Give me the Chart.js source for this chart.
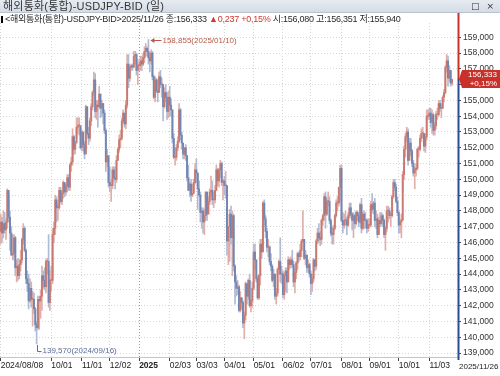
<!DOCTYPE html>
<html>
<head>
<meta charset="utf-8">
<script src="https://cdn.jsdelivr.net/npm/chart.js@4.4.1/dist/chart.umd.min.js"></script>
<style>
    html, body { margin: 0; padding: 0; background: #fff; }
    #wrap { position: relative; width: 500px; height: 376px; overflow: hidden; font-family: "Liberation Sans", "Noto Sans CJK KR", sans-serif; }
    #chart { position: absolute; left: 0; top: 0; }
    #titlebar { position: absolute; left: 0; top: 0; width: 500px; height: 12px; background: linear-gradient(#e6ebf1, #d5dce5); border-bottom: 1px solid #b9c3cf; color: #333; font-size: 11px; line-height: 12px; letter-spacing: 0.2px; z-index: 2; }
    #titlebar .t { position: absolute; left: 3px; top: 0; }
    #titlebar .b { position: absolute; right: 4px; top: 0; font-family: "DejaVu Sans"; font-size: 9px; letter-spacing: 2px; }
    #legend { position: absolute; left: 1px; top: 14px; font-size: 9px; letter-spacing: -0.25px; line-height: 10px; color: #2a2a2a; white-space: nowrap; z-index: 2; }
    #legend .mk { display: inline-block; width: 2px; height: 7px; background: #000; margin-right: 2px; vertical-align: -1px; }
    #legend .up { color: #d0392e; }
</style>
</head>
<body>
<div id="wrap">
    <canvas id="chart" width="500" height="376"></canvas>
    <div id="titlebar"><span class="t">해외통화(통합)-USDJPY-BID (일)</span><span class="b">□ ×</span></div>
    <div id="legend"><span class="mk"></span>&lt;해외통화(통합)-USDJPY-BID&gt;2025/11/26 종:156,333 <span class="up">▲0,237 +0,15%</span> 시:156,080 고:156,351 저:155,940</div>
</div>
<script>
// daily bars, 2024/08/08 .. 2025/11/26 (340 trading days)
const closes = [
    147.3,146.6,147.2,146.8,147.3,149.3,147.6,146.6,145.2,145.3,146.3,144.4,144.5,143.9,144.6,144.9,146.2,
    146.9,145.5,143.7,143.4,142.3,143.1,142.4,142.4,141.8,140.8,140.6,142.4,142.3,142.6,143.9,143.6,143.2,144.8,144.8,142.2,143.6,
    143.6,146.5,146.9,148.7,148.2,148.2,149.3,148.6,149.1,149.8,149.2,149.6,150.1,149.5,150.9,151.1,152.7,151.9,152.3,153.3,153.4,153.4,152.0,
    153.0,152.2,151.6,154.6,152.9,152.6,153.7,154.6,155.5,156.3,154.3,154.7,154.6,155.4,154.5,154.8,154.2,153.1,151.1,151.5,149.8,
    149.6,149.6,150.6,150.1,150.0,151.2,151.9,152.5,152.6,153.7,154.2,153.5,154.7,157.3,156.4,157.1,157.2,157.1,157.8,157.9,156.9,157.2,
    157.2,157.5,157.3,157.7,158.1,158.3,158.1,157.7,157.5,158.0,156.5,155.2,156.3,155.6,155.5,156.5,156.0,156.0,154.6,155.5,155.2,154.3,155.2,
    154.7,154.4,152.6,151.4,151.4,152.0,152.4,154.4,152.8,152.3,151.6,152.0,151.5,150.1,149.3,149.7,149.0,149.1,149.8,150.6,
    150.4,149.4,149.0,147.9,148.0,147.3,147.7,149.2,147.8,148.6,149.2,149.3,148.7,148.7,149.3,150.6,149.9,150.6,151.0,149.8,149.9,
    149.6,149.6,146.1,147.0,147.8,146.3,147.7,144.5,143.5,143.1,143.2,141.7,142.5,142.2,140.9,141.4,143.4,142.6,143.6,142.0,142.3,143.1,
    145.4,144.9,143.7,142.5,143.9,145.9,145.4,148.5,147.5,146.7,145.7,145.7,144.8,144.5,143.6,144.0,142.6,142.8,144.3,144.8,144.0,144.0,
    142.7,143.9,144.2,143.5,144.9,144.6,144.9,144.6,143.5,144.1,144.7,145.3,145.1,145.5,146.1,146.2,145.0,145.2,144.4,144.6,144.0,
    143.4,143.7,144.9,144.5,146.1,146.6,146.3,146.2,147.4,147.7,148.9,147.8,148.6,148.6,147.4,146.6,146.5,146.9,147.7,148.5,148.5,149.5,150.7,
    147.4,147.1,147.4,147.4,147.1,147.7,148.2,147.8,147.4,147.7,147.2,147.9,147.7,147.3,148.4,146.9,147.8,147.4,147.4,146.9,147.1,
    147.1,148.4,148.1,148.5,147.4,147.5,146.5,147.4,147.2,147.7,147.4,146.5,146.9,148.0,148.0,147.7,147.7,148.9,149.8,149.5,148.6,147.9,
    147.1,147.3,147.4,150.3,151.9,152.7,153.0,151.2,152.3,151.8,151.0,150.4,150.6,150.7,151.9,151.9,152.6,152.9,152.9,152.1,152.7,154.0,154.0,
    154.2,153.6,154.1,153.1,153.4,154.1,154.1,154.8,154.5,154.5,155.2,155.5,157.1,157.5,156.4,156.9,156.096,156.333,
];
const highs = [
    147.8,147.6,148.0,147.9,147.5,149.4,149.0,148.0,147.0,146.5,146.5,146.4,144.9,145.0,144.9,145.5,146.3,
    147.2,147.0,145.6,144.2,144.0,143.7,143.5,142.9,142.8,141.9,141.0,142.6,142.6,143.0,144.5,144.2,144.4,144.9,145.0,146.5,144.2,
    144.5,146.9,147.3,149.0,148.9,148.4,149.5,149.5,149.3,149.9,149.8,149.7,150.3,150.3,151.0,151.4,153.2,152.8,152.4,153.9,153.9,153.9,153.2,
    153.1,152.7,152.4,154.7,154.6,153.3,153.9,154.8,155.6,156.8,156.7,155.0,155.0,155.9,155.0,155.0,154.8,154.4,153.2,151.9,151.3,
    150.8,150.0,150.8,150.8,150.8,151.5,152.0,152.8,153.1,153.9,154.4,154.1,155.0,157.9,157.9,157.2,157.3,157.3,158.1,158.1,158.0,157.6,
    157.4,157.8,157.8,158.0,158.4,158.6,158.4,158.855,158.0,158.2,158.1,156.6,156.5,156.4,156.3,156.8,156.9,156.4,156.0,155.8,156.0,155.5,155.6,
    155.9,155.1,154.4,152.9,152.0,152.2,152.7,154.8,154.5,153.0,152.0,152.0,152.2,151.5,150.9,149.8,150.0,149.7,150.0,151.0,
    151.3,150.4,149.9,149.2,148.2,148.2,148.1,149.2,149.0,148.9,149.4,150.2,149.9,149.2,149.6,150.9,150.7,150.7,151.2,151.1,150.0,
    150.2,150.5,149.3,147.0,148.1,148.3,148.0,147.8,144.6,143.9,143.6,143.3,142.9,142.5,142.3,141.6,143.5,143.3,143.7,144.0,142.4,143.5,
    145.9,145.9,144.9,143.9,144.0,146.2,146.2,148.6,148.7,147.7,146.9,146.2,145.8,145.3,144.6,144.3,144.0,143.1,144.4,144.9,146.3,144.5,
    144.2,144.1,144.4,144.4,145.1,145.0,145.1,145.5,144.8,144.4,144.8,145.4,145.4,145.9,146.2,148.0,146.2,145.5,145.2,144.9,144.7,
    144.2,144.0,145.0,144.9,146.2,146.9,147.2,146.7,147.5,147.8,149.1,149.2,148.8,149.2,148.9,147.5,147.0,147.1,147.8,148.7,148.9,149.5,150.9,
    150.9,147.9,147.8,148.0,147.6,147.9,148.5,148.5,147.9,147.9,147.8,148.0,148.0,147.9,148.5,148.8,147.9,148.0,147.9,147.5,147.5,
    147.5,148.6,149.1,148.6,148.8,148.0,147.8,147.6,147.9,147.9,147.8,147.5,147.0,148.3,148.3,148.2,147.9,149.0,150.0,150.0,149.7,148.9,
    148.0,147.5,147.8,150.5,152.1,152.9,153.3,153.2,152.6,152.6,151.9,151.2,150.8,151.0,152.0,152.1,152.8,153.2,153.3,152.9,152.9,154.4,154.4,
    154.5,154.5,154.4,154.2,153.6,154.3,154.5,155.0,155.0,154.8,155.3,155.7,157.2,157.9,157.8,157.2,156.9,156.351,
];
const lows = [
    145.9,146.0,146.3,146.6,146.2,146.9,147.3,145.5,145.2,144.9,144.9,143.9,143.5,143.6,143.7,144.2,144.7,
    145.9,145.4,143.4,142.9,141.8,142.2,141.9,140.7,141.5,140.4,139.57,140.5,140.5,141.2,141.7,143.1,143.0,142.8,144.0,141.9,141.7,
    142.9,143.4,146.0,146.5,147.3,147.4,148.1,148.5,148.4,148.8,148.9,149.0,149.2,149.3,149.3,150.5,150.9,151.6,151.6,152.6,152.9,152.8,151.9,
    151.8,151.8,151.3,151.7,152.8,152.2,152.4,153.4,154.4,155.3,153.9,153.8,153.3,154.5,153.9,154.0,153.5,152.9,150.5,150.8,149.5,
    149.2,148.6,149.4,149.9,149.4,149.8,151.2,151.7,152.0,152.5,153.6,153.3,153.2,154.5,155.8,156.2,156.9,156.9,157.1,157.3,156.6,156.0,
    156.9,156.9,156.9,157.2,157.4,157.8,157.8,157.3,156.8,157.3,156.3,155.1,154.9,155.5,154.9,155.6,155.8,155.2,153.7,154.5,154.9,153.8,153.9,
    154.0,154.0,152.3,151.3,150.9,151.2,151.8,152.3,152.5,151.9,151.3,151.3,151.2,149.9,149.3,148.9,148.6,148.9,149.2,149.7,
    149.8,148.1,148.9,147.3,146.9,146.6,146.5,147.4,147.4,147.8,148.4,148.9,148.4,148.2,148.5,149.3,149.6,149.5,150.1,149.6,148.7,
    149.0,148.8,145.2,144.6,144.8,145.9,143.9,144.2,142.1,142.6,142.7,141.6,141.6,141.8,140.6,139.9,141.1,142.1,142.4,141.9,141.6,141.9,
    143.0,144.3,143.5,142.4,142.4,143.3,145.0,145.5,147.1,146.3,145.4,145.1,144.6,144.2,143.5,143.2,142.4,142.1,142.6,144.0,143.5,143.4,
    142.5,142.4,142.9,142.8,143.6,144.3,144.4,144.4,143.2,142.8,143.7,144.3,144.8,144.9,145.1,146.0,144.9,144.6,144.1,144.1,143.8,
    142.7,142.9,143.5,144.2,144.3,145.9,146.0,145.8,145.9,147.1,147.4,146.9,147.7,148.3,147.2,146.4,145.9,145.9,146.8,147.6,148.0,148.3,148.6,
    147.3,146.6,146.9,147.1,146.5,147.0,147.5,147.6,146.8,146.3,146.9,147.1,147.4,147.0,147.2,146.6,146.8,146.9,146.9,146.6,146.7,
    146.9,147.0,147.9,147.8,147.0,146.9,146.3,146.5,147.0,147.1,147.0,146.3,145.5,146.7,147.3,147.5,147.0,147.6,148.8,149.3,148.5,147.7,
    146.6,146.6,146.3,149.2,150.0,151.4,152.4,150.9,151.5,151.5,150.8,150.2,149.4,150.2,150.6,151.4,151.8,152.4,152.6,151.8,151.7,152.5,153.8,
    153.8,153.3,152.9,152.8,152.8,153.2,153.8,154.0,154.3,153.9,154.5,154.9,155.4,156.8,155.9,156.2,155.9,155.94,
];
const firstOpen = 146.7;

// x axis: bar index of each labelled date
const dateTickIdx = [0, 38, 61, 82, 104, 127, 147, 168, 190, 212, 233, 256, 277, 299, 322];
const dateTickLabels = ['2024/08/08', '10/01', '11/01', '12/02', '2025', '02/03', '03/03', '04/01', '05/01', '06/02', '07/01', '08/01', '09/01', '10/01', '11/03'];
const lastDateLabel = '2025/11/26';
const priceTicks = [139, 140, 141, 142, 143, 144, 145, 146, 147, 148, 149, 150, 151, 152, 153, 154, 155, 156, 157, 158, 159];
const peakNote = '158,855(2025/01/10)';
const troughNote = '139,570(2024/09/16)';
const lastChange = '+0,15%';

const UP_BODY = '#c97a70', UP_WICK = '#e0afa9';
const DN_BODY = '#7286b3', DN_WICK = '#afbad3';
const RED = '#c8302a', BLUE = '#2d4c92';
const fmt = (v) => v.toFixed(3).replace('.', ',');

const opens = closes.map((c, i) => (i ? closes[i - 1] : firstOpen));
const isUp = closes.map((c, i) => c >= opens[i]);

const overlay = {
    id: 'overlay',
    afterDatasetsDraw(chart) {
        const { ctx, scales: { x, y } } = chart;
        let hi = 0, lo = 0;
        highs.forEach((v, i) => { if (v > highs[hi]) hi = i; });
        lows.forEach((v, i) => { if (v < lows[lo]) lo = i; });
        ctx.save();
        ctx.font = '8px "Liberation Sans"';
        ctx.textBaseline = 'middle';
        ctx.lineWidth = 1;

        // highest high
        const hx = x.getPixelForValue(hi) + 1, hy = Math.round(y.getPixelForValue(highs[hi])) + 0.5;
        ctx.strokeStyle = ctx.fillStyle = '#b65a48';
        ctx.beginPath(); ctx.moveTo(hx + 2, hy); ctx.lineTo(hx + 12, hy); ctx.stroke();
        ctx.beginPath(); ctx.moveTo(hx + 1, hy); ctx.lineTo(hx + 5, hy - 2.5); ctx.lineTo(hx + 5, hy + 2.5); ctx.closePath(); ctx.fill();
        ctx.fillText(peakNote, hx + 13, hy);

        // lowest low
        const lx = Math.round(x.getPixelForValue(lo)) + 0.5, ly = y.getPixelForValue(lows[lo]);
        ctx.strokeStyle = ctx.fillStyle = '#5b6b98';
        ctx.beginPath(); ctx.moveTo(lx, ly + 1); ctx.lineTo(lx, ly + 7.5); ctx.lineTo(lx + 4, ly + 7.5); ctx.stroke();
        ctx.fillText(troughNote, lx + 5, ly + 7);
        ctx.restore();
    },
    afterDraw(chart) {
        const { ctx, chartArea: a, scales: { y } } = chart;
        const last = closes[closes.length - 1];
        const py = Math.round(y.getPixelForValue(last));
        const ax = a.right + 0.5;
        ctx.save();
        ctx.lineWidth = 2;
        ctx.strokeStyle = RED;
        ctx.beginPath(); ctx.moveTo(ax, 13); ctx.lineTo(ax, py); ctx.stroke();
        ctx.strokeStyle = BLUE;
        ctx.beginPath(); ctx.moveTo(ax, py); ctx.lineTo(ax, a.bottom + 3); ctx.stroke();

        // current price box
        ctx.fillStyle = RED;
        ctx.beginPath();
        ctx.moveTo(a.right + 1, py);
        ctx.lineTo(a.right + 4, py - 9);
        ctx.lineTo(500, py - 9);
        ctx.lineTo(500, py + 9);
        ctx.lineTo(a.right + 4, py + 9);
        ctx.closePath();
        ctx.fill();
        ctx.fillStyle = '#fff';
        ctx.font = '8px "Liberation Sans"';
        ctx.textAlign = 'right';
        ctx.textBaseline = 'middle';
        ctx.fillText(fmt(last), 497, py - 4);
        ctx.fillText(lastChange, 497, py + 4.5);

        // last date under the price axis
        ctx.fillStyle = '#222';
        ctx.textAlign = 'left';
        ctx.font = '8px "Liberation Sans"';
        ctx.fillText(lastDateLabel, a.right + 1, a.bottom + 10);
        ctx.restore();
    },
};

new Chart(document.getElementById('chart'), {
    type: 'bar',
    data: {
        datasets: [
            {
                label: 'body',
                data: closes.map((c, i) => ({ x: i, y: [opens[i], c] })),
                backgroundColor: isUp.map((u) => (u ? UP_BODY : DN_BODY)),
                barThickness: 1.3,
                minBarLength: 1,
                grouped: false,
            },
            {
                label: 'range',
                data: closes.map((c, i) => ({ x: i, y: [lows[i], highs[i]] })),
                backgroundColor: isUp.map((u) => (u ? UP_WICK : DN_WICK)),
                barThickness: 1,
                grouped: false,
            },
        ],
    },
    options: {
        responsive: false,
        animation: false,
        devicePixelRatio: 1,
        layout: { padding: { top: 23, left: 0, right: 0, bottom: 0 } },
        plugins: { legend: { display: false }, tooltip: { enabled: false } },
        scales: {
            x: {
                type: 'linear',
                offset: false,
                min: -0.5,
                max: 343.5,
                afterBuildTicks: (s) => { s.ticks = dateTickIdx.map((v) => ({ value: v })); },
                afterFit: (s) => { s.height = 19; s.paddingLeft = 0; s.paddingRight = 0; },
                ticks: {
                    autoSkip: false,
                    maxRotation: 0,
                    align: 'start',
                    padding: 0,
                    color: '#222',
                    font: (c) => ({ family: '"Liberation Sans"', size: 8.5, weight: c.tick && c.tick.value === 104 ? 'bold' : 'normal' }),
                    callback: (v, i) => dateTickLabels[i],
                },
                grid: {
                    offset: false,
                    color: (c) => (c.tick && c.tick.value === 104 ? '#9a9a9a' : '#d6d6d6'),
                    tickColor: '#444',
                    tickLength: 4,
                    tickBorderDash: [],
                },
                border: { color: '#c8c8c8', dash: [1, 2] },
            },
            y: {
                position: 'right',
                min: 138.75,
                max: 159.9,
                afterBuildTicks: (s) => { s.ticks = priceTicks.map((v) => ({ value: v })); },
                afterFit: (s) => { s.width = 42; s.paddingTop = 0; s.paddingBottom = 0; },
                ticks: {
                    padding: 2,
                    color: '#333',
                    font: { family: '"Liberation Sans"', size: 8.5 },
                    callback: (v) => fmt(v),
                },
                grid: {
                    color: '#d6d6d6',
                    tickColor: '#444',
                    tickLength: 3,
                    tickBorderDash: [],
                },
                border: { display: false, dash: [1, 2] },
            },
        },
    },
    plugins: [overlay],
});
</script>
</body>
</html>
